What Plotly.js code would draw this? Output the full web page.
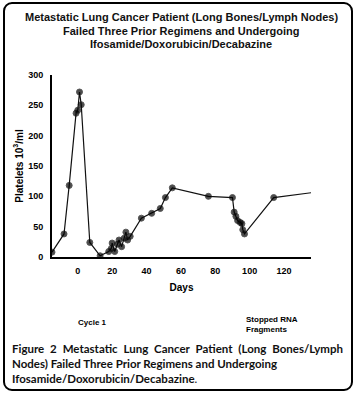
<!DOCTYPE html>
<html>
<head>
<meta charset="utf-8">
<script src="https://cdn.plot.ly/plotly-3.0.1.min.js"></script>
<style>
html,body{margin:0;padding:0;background:#fff;}
#wrap{position:relative;width:356px;height:394px;overflow:hidden;}
#chart{position:absolute;left:0;top:0;width:356px;height:394px;}
#frame{position:absolute;left:3px;top:2px;width:346px;height:385px;border:2px solid #000;border-radius:9px;pointer-events:none;}
.cap{position:absolute;left:12px;width:331px;font-family:Lato,"Open Sans",sans-serif;font-weight:700;font-size:11.5px;line-height:14px;height:14px;color:#111;white-space:nowrap;}
.just{text-align:justify;text-align-last:justify;white-space:normal;}
</style>
</head>
<body>
<div id="wrap">
<div id="chart"></div>
<div id="frame"></div>
<div class="cap just" style="top:342px">Figure 2 Metastatic Lung Cancer Patient (Long Bones/Lymph</div>
<div class="cap" style="top:357px">Nodes) Failed Three Prior Regimens and Undergoing</div>
<div class="cap" style="top:372px">Ifosamide/Doxorubicin/Decabazine<span style="font-weight:400">.</span></div>
</div>
<script>
var days = [-15, -8, -5, -1, 0, 1, 2, 7, 13, 18, 19.5, 20, 21.5, 23, 24, 25.5, 27, 28, 29, 30.5, 37, 43, 48, 51, 55, 76, 90, 91, 92, 93, 94.5, 95.5, 96, 97, 114, 136];
var platelets = [8, 38, 118, 237, 242, 272, 251, 24, 2, 9, 14, 23, 9, 21, 28, 17, 31, 41, 28, 34, 64, 72, 80, 98, 114, 100, 98, 74, 67, 60, 57, 55, 45, 38, 98, 106];
var markerShown = days.map(function(d, i){ return i === days.length - 1 ? 0 : 6; });
var yTicks = [0, 50, 100, 150, 200, 250, 300];
var xTicks = [0, 20, 40, 60, 80, 100, 120];
var titleLines = ['Metastatic Lung Cancer Patient (Long Bones/Lymph Nodes)', 'Failed Three Prior Regimens and Undergoing', 'Ifosamide/Doxorubicin/Decabazine'];

var trace = {
  x: days, y: platelets, type: 'scatter', mode: 'lines+markers',
  line: {color: '#111', width: 1.2},
  marker: {color: '#000', size: markerShown},
  cliponaxis: true, hoverinfo: 'skip'
};

var plotTop = 75, plotBottom = 257, plotLeft = 52, plotW = 259, plotH = plotBottom - plotTop;
function py(p){ return (plotBottom - p) / plotH; }
function px(p){ return (p - plotLeft) / plotW; }

var annotations = titleLines.map(function(t, i){
  return {text: t, xref: 'paper', yref: 'paper', x: px(181), y: py(16.5 + i * 14), xanchor: 'center', yanchor: 'middle', showarrow: false, font: {size: 11, weight: 700, color: '#111'}};
});
annotations.push({text: 'Cycle 1', xref: 'paper', yref: 'paper', x: px(92), y: py(322.7), xanchor: 'center', yanchor: 'middle', showarrow: false, font: {size: 8, weight: 700}});
annotations.push({text: 'Stopped RNA<br>Fragments', align: 'left', xref: 'paper', yref: 'paper', x: px(244), y: py(324.3), xanchor: 'left', yanchor: 'middle', showarrow: false, font: {size: 8, weight: 700}});

var layout = {
  width: 356, height: 394,
  margin: {l: plotLeft, r: 356 - plotLeft - plotW, t: plotTop, b: 394 - plotBottom},
  paper_bgcolor: 'rgba(0,0,0,0)', plot_bgcolor: 'rgba(0,0,0,0)',
  showlegend: false,
  font: {family: 'Liberation Sans, Arial, sans-serif', color: '#000'},
  xaxis: {
    range: [-15, 135.7], tickvals: xTicks, ticktext: xTicks.map(String),
    showgrid: false, zeroline: false, showline: true, linecolor: '#000', linewidth: 2,
    ticks: 'outside', ticklen: 4, tickcolor: 'rgba(0,0,0,0)',
    tickfont: {size: 9, weight: 700},
    title: {text: 'Days', font: {size: 10, weight: 700}, standoff: 9}
  },
  yaxis: {
    range: [0, 300], tickvals: yTicks, ticktext: yTicks.map(String),
    showgrid: false, zeroline: false, showline: true, linecolor: '#000', linewidth: 2,
    ticks: 'outside', ticklen: 5, tickcolor: 'rgba(0,0,0,0)',
    tickfont: {size: 9, weight: 700},
    title: {text: 'Platelets 10<sup>3</sup>/ml', font: {size: 10, weight: 700}, standoff: 3}
  },
  annotations: annotations
};

Plotly.newPlot('chart', [trace], layout, {staticPlot: true, displayModeBar: false});
</script>
</body>
</html>
